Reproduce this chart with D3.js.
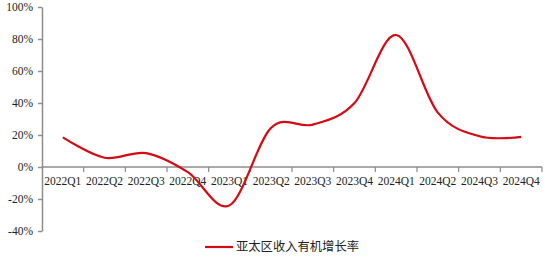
<!DOCTYPE html>
<html>
<head>
<meta charset="utf-8">
<script src="https://cdn.jsdelivr.net/npm/d3@7"></script>
<style>
  body { margin: 0; background: #fff; }
</style>
</head>
<body>
<div id="chart"></div>
<script>
// quarters on the x axis
const quarters = ["2022Q1", "2022Q2", "2022Q3", "2022Q4", "2023Q1", "2023Q2",
    "2023Q3", "2023Q4", "2024Q1", "2024Q2", "2024Q3", "2024Q4"];
// organic revenue growth, APAC (%)
const growth = [18.5, 5.8, 8.7, -3.2, -24, 24.5, 26.5, 40, 82.5, 34, 19.2, 18.8];
const yTicks = [-40, -20, 0, 20, 40, 60, 80, 100];
const seriesName = "亚太区收入有机增长率";

const width = 553, height = 261;
const margin = { top: 7, left: 42, right: 11, bottom: 29 };

const svg = d3.select("#chart").append("svg")
    .attr("width", width)
    .attr("height", height);

const x = d3.scaleBand()
    .domain(quarters)
    .range([margin.left, width - margin.right]);

const y = d3.scaleLinear()
    .domain([-40, 100])
    .range([height - margin.bottom - 1, margin.top]);

const axisColor = "#8c8c8c";
const serif = "'Liberation Serif', 'DejaVu Serif', serif";

// y axis
const yAxis = svg.append("g")
    .attr("transform", `translate(${margin.left},0)`)
    .call(d3.axisLeft(y).tickValues(yTicks).tickSize(4).tickSizeOuter(0)
        .tickFormat(d => d + "%"));
yAxis.selectAll("path, line").attr("stroke", axisColor).attr("stroke-width", 1.5);
yAxis.selectAll("text")
    .attr("font-family", serif)
    .attr("font-size", 11.5)
    .attr("fill", "#222")
    .attr("x", -9);

// x axis at zero, ticks on band boundaries
const xAxis = svg.append("g")
    .attr("transform", `translate(0,${y(0)})`);
xAxis.append("line")
    .attr("x1", margin.left).attr("x2", width - margin.right)
    .attr("stroke", axisColor).attr("stroke-width", 1.5);
xAxis.selectAll(".tk")
    .data(quarters)
    .enter().append("line")
    .attr("x1", d => x(d) + x.bandwidth())
    .attr("x2", d => x(d) + x.bandwidth())
    .attr("y1", 0).attr("y2", 5)
    .attr("stroke", axisColor).attr("stroke-width", 1.2);
xAxis.selectAll("text")
    .data(quarters)
    .enter().append("text")
    .attr("x", d => x(d) + x.bandwidth() / 2)
    .attr("y", 18)
    .attr("text-anchor", "middle")
    .attr("font-family", serif)
    .attr("font-size", 11.5)
    .attr("fill", "#222")
    .text(d => d);

// smoothed line
const line = d3.line()
    .x((d, i) => x(quarters[i]) + x.bandwidth() / 2)
    .y(d => y(d))
    .curve(d3.curveCardinal.tension(0));

svg.append("path")
    .datum(growth)
    .attr("fill", "none")
    .attr("stroke", "#d40a14")
    .attr("stroke-width", 2.2)
    .attr("d", line);

// legend
const legend = svg.append("g").attr("transform", "translate(205,247)");
legend.append("line")
    .attr("x1", 0).attr("x2", 28)
    .attr("stroke", "#d40a14").attr("stroke-width", 2.2);
legend.append("text")
    .attr("x", 31)
    .attr("dy", "0.35em")
    .attr("font-family", "'Noto Sans CJK SC', sans-serif")
    .attr("font-size", 12.3)
    .attr("fill", "#222")
    .text(seriesName);
</script>
</body>
</html>
